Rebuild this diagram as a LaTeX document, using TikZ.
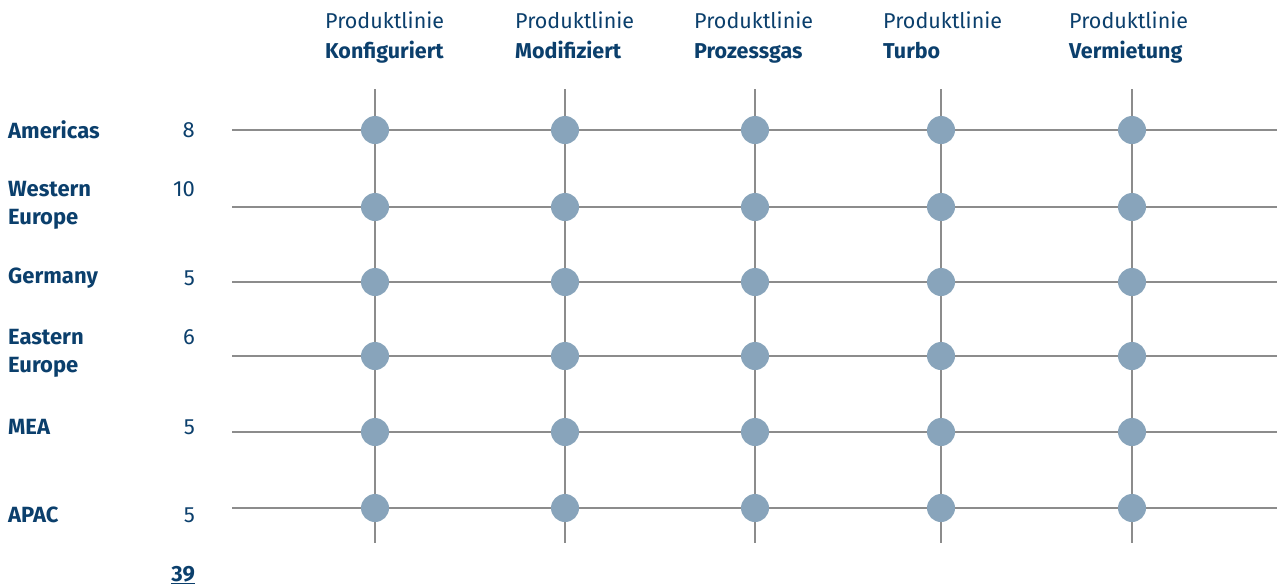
\documentclass[tikz,border=0pt]{standalone}
\usepackage{fontspec}
\setmainfont{Fira Sans}
\definecolor{txtblue}{HTML}{0B3F6C}
\definecolor{dotblue}{HTML}{88A4BB}
\definecolor{linegray}{HTML}{8C8C8C}
\begin{document}
\begin{tikzpicture}[x=1pt,y=-1pt,
  grid/.style={draw=linegray,line width=2.8pt},
  dot/.style={circle,fill=dotblue,minimum size=28pt,inner sep=0pt},
  region/.style={anchor=west,align=left,text=txtblue,font=\fontsize{22}{28}\selectfont\bfseries,inner sep=0pt},
  count/.style={anchor=east,text=txtblue,font=\fontsize{22}{28}\selectfont,inner sep=0pt},
  head/.style={anchor=west,align=left,text=txtblue,font=\fontsize{21.5}{30}\selectfont,inner sep=0pt}]
\useasboundingbox (0,0) rectangle (1277,587);
% columns
\foreach \c/\x in {1/375,2/565,3/755,4/941,5/1132}{
  \coordinate (top\c) at (\x,89);
  \coordinate (bot\c) at (\x,543);
  \draw[grid] (top\c) -- (bot\c);
}
% rows
\foreach \r/\y in {1/130,2/207,3/282,4/356,5/432,6/508}{
  \coordinate (left\r) at (232,\y);
  \coordinate (right\r) at (1277,\y);
  \draw[grid] (left\r) -- (right\r);
  \foreach \c/\x in {1/375,2/565,3/755,4/941,5/1132}{
    \node[dot] (d\r\c) at (\x,\y) {};
  }
}
% headers
\node[head] (h1) at (325,37) {\strut Produktlinie\\\strut\textbf{Konfiguriert}};
\node[head] (h2) at (515,37) {\strut Produktlinie\\\strut\textbf{Modifiziert}};
\node[head] (h3) at (694,37) {\strut Produktlinie\\\strut\textbf{Prozessgas}};
\node[head] (h4) at (883,37) {\strut Produktlinie\\\strut\textbf{Turbo}};
\node[head] (h5) at (1069,37) {\strut Produktlinie\\\strut\textbf{Vermietung}};
% regions
\node[region] (r1) at (8,130) {Americas};
\node[region] (r2) at (8,205) {\strut Western\\\strut Europe};
\node[region] (r3) at (8,278) {Germany};
\node[region] (r4) at (8,353) {\strut Eastern\\\strut Europe};
\node[region] (r5) at (8,427) {MEA};
\node[region] (r6) at (8,515) {APAC};
% counts
\node[count] (n1) at (195,130) {8};
\node[count] (n2) at (195,189) {10};
\node[count] (n3) at (195,278) {5};
\node[count] (n4) at (195,337) {6};
\node[count] (n5) at (195,427) {5};
\node[count] (n6) at (195,515) {5};
\node[count,font=\fontsize{22}{28}\selectfont\bfseries] (tot) at (195,575) {\underline{39}};
\end{tikzpicture}
\end{document}
